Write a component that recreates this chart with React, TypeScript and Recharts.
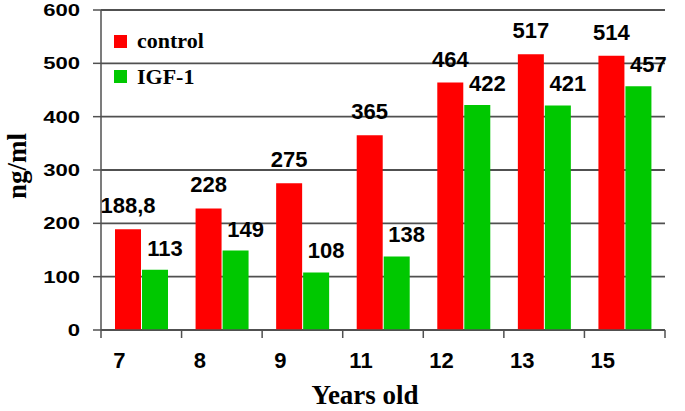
import React from 'react';
import { BarChart, Bar, XAxis, YAxis, CartesianGrid, LabelList, Legend } from 'recharts';

const ages = ['7', '8', '9', '11', '12', '13', '15'];
const controlValues = [188.8, 228, 275, 365, 464, 517, 514];
const igfValues = [113, 149, 108, 138, 422, 421, 457];
const yTicks = [0, 100, 200, 300, 400, 500, 600];
const seriesNames = ['control', 'IGF-1'];

const data = ages.map((age, i) => ({ age, control: controlValues[i], igf: igfValues[i] }));

const W = 685;
const H = 411;
const LEFT = 101;
const RIGHT = 20;
const TOP = 10;
const XH = 81;
const PLOT_BOTTOM = H - XH;
const BAND = (W - LEFT - RIGHT) / ages.length;
const AXIS_COLOR = '#505050';
const SANS = '"Liberation Sans", Arial, sans-serif';
const SERIF = '"Liberation Serif", "Times New Roman", serif';
const RED = '#ff0000';
const GREEN = '#00c800';

const fmt = (v: any) => String(v).replace('.', ',');

const YTick = (props: any) => {
  const { y, payload } = props;
  return (
    <g transform={`translate(${LEFT - 21},${y + 6}) scale(1.3,1)`}>
      <text x={0} y={0} textAnchor="end" fontFamily={SANS} fontWeight="bold" fontSize={17} fill="#000">
        {payload.value}
      </text>
    </g>
  );
};

const XTick = (props: any) => {
  const { x, payload, index } = props;
  const left = x - BAND / 2;
  return (
    <g>
      <line x1={left} x2={left} y1={PLOT_BOTTOM} y2={PLOT_BOTTOM + 8} stroke={AXIS_COLOR} strokeWidth={1.5} />
      {index === ages.length - 1 && (
        <line x1={x + BAND / 2} x2={x + BAND / 2} y1={PLOT_BOTTOM} y2={PLOT_BOTTOM + 8} stroke={AXIS_COLOR} strokeWidth={1.5} />
      )}
      <text x={x - 22} y={368} textAnchor="middle" fontFamily={SANS} fontWeight="bold" fontSize={22} fill="#000">
        {payload.value}
      </text>
    </g>
  );
};

const ControlLabel = (props: any) => {
  const { x, y, width, value } = props;
  return (
    <text x={x + width / 2} y={y - 16} textAnchor="middle" fontFamily={SANS} fontWeight="bold" fontSize={22} fill="#000">
      {fmt(value)}
    </text>
  );
};

const IgfLabel = (props: any) => {
  const { x, y, width, value } = props;
  return (
    <text x={x + width / 2 + 10} y={y - 14} textAnchor="middle" fontFamily={SANS} fontWeight="bold" fontSize={22} fill="#000">
      {fmt(value)}
    </text>
  );
};

const LegendContent = () => (
  <svg width={260} height={100} style={{ display: 'block' }}>
    <rect x={114} y={35} width={13} height={13} fill={RED} />
    <text x={137} y={48} fontFamily={SERIF} fontWeight="bold" fontSize={22} fill="#000">{seriesNames[0]}</text>
    <rect x={114} y={70} width={13} height={13} fill={GREEN} />
    <text x={137} y={84} fontFamily={SERIF} fontWeight="bold" fontSize={22} fill="#000">{seriesNames[1]}</text>
  </svg>
);

export default function App() {
  return (
    <div style={{ position: 'absolute', left: 0, top: 0, width: W, height: H, background: '#fff' }}>
      <BarChart
        width={W}
        height={H}
        data={data}
        margin={{ top: TOP, right: RIGHT, left: 0, bottom: 0 }}
        barSize={26}
        barGap={1}
      >
        <CartesianGrid horizontal vertical={false} stroke={AXIS_COLOR} strokeWidth={1.8} />
        <XAxis
          dataKey="age"
          height={XH}
          tickLine={false}
          axisLine={{ stroke: AXIS_COLOR, strokeWidth: 1.5 }}
          tick={<XTick />}
          interval={0}
          label={{
            content: () => (
              <text x={365} y={404} textAnchor="middle" fontFamily={SERIF} fontWeight="bold" fontSize={27} fill="#000">
                Years old
              </text>
            ),
          }}
        />
        <YAxis
          width={LEFT}
          domain={[0, 600]}
          ticks={yTicks}
          interval={0}
          tickSize={8}
          tickLine={{ stroke: AXIS_COLOR, strokeWidth: 1.5 }}
          axisLine={{ stroke: AXIS_COLOR, strokeWidth: 1.5 }}
          tick={<YTick />}
          label={{
            content: () => (
              <text
                x={26}
                y={166}
                transform="rotate(-90, 26, 166)"
                textAnchor="middle"
                fontFamily={SERIF}
                fontWeight="bold"
                fontSize={27}
                fill="#000"
              >
                ng/ml
              </text>
            ),
          }}
        />
        <Legend
          layout="vertical"
          align="center"
          verticalAlign="middle"
          content={<LegendContent />}
          wrapperStyle={{ position: 'absolute', left: 0, top: 0, width: 260, height: 100 }}
        />
        <Bar dataKey="control" name={seriesNames[0]} fill={RED} isAnimationActive={false}>
          <LabelList dataKey="control" content={<ControlLabel />} />
        </Bar>
        <Bar dataKey="igf" name={seriesNames[1]} fill={GREEN} isAnimationActive={false}>
          <LabelList dataKey="igf" content={<IgfLabel />} />
        </Bar>
      </BarChart>
    </div>
  );
}
